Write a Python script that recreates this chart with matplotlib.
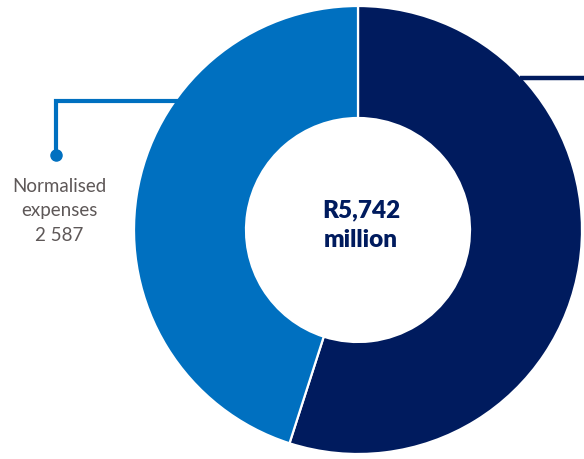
import matplotlib.pyplot as plt

plt.switch_backend("Agg")

labels = ["Other", "Normalised expenses"]
values = [3155, 2587]
colors = ["#001b5e", "#0070c0"]
total_label = "R5,742\nmillion"
side_label = "Normalised\nexpenses\n2 587"

W, H = 584, 460
cx, cy, r_out = 358, 229, 224

fig = plt.figure(figsize=(W / 100, H / 100), dpi=100)
ax = fig.add_axes([0, 0, 1, 1])

ax.pie(
    values,
    colors=colors,
    startangle=90,
    counterclock=False,
    center=(cx, cy),
    radius=r_out,
    wedgeprops=dict(width=112, edgecolor="white", linewidth=1.6),
)

# leader lines
ax.plot([520, W + 5], [381, 381], color=colors[0], lw=3.2, solid_capstyle="butt")
ax.plot([182, 56, 56], [358, 358, 304], color=colors[1], lw=3.0,
        solid_joinstyle="miter", solid_capstyle="butt")
ax.plot(56, 304, "o", color=colors[1], ms=8)

ax.text(cx + 3, 235, total_label, ha="center", va="center", fontsize=17.5,
        fontweight="heavy", color=colors[0], family="Lato", linespacing=1.4)
ax.text(59, 249, side_label, ha="center", va="center", fontsize=13.5,
        color="#5e5858", family="Lato", linespacing=1.55)

ax.set_xlim(0, W)
ax.set_ylim(0, H)
ax.set_aspect("equal")
ax.axis("off")

fig.savefig("out.png", dpi=100)
